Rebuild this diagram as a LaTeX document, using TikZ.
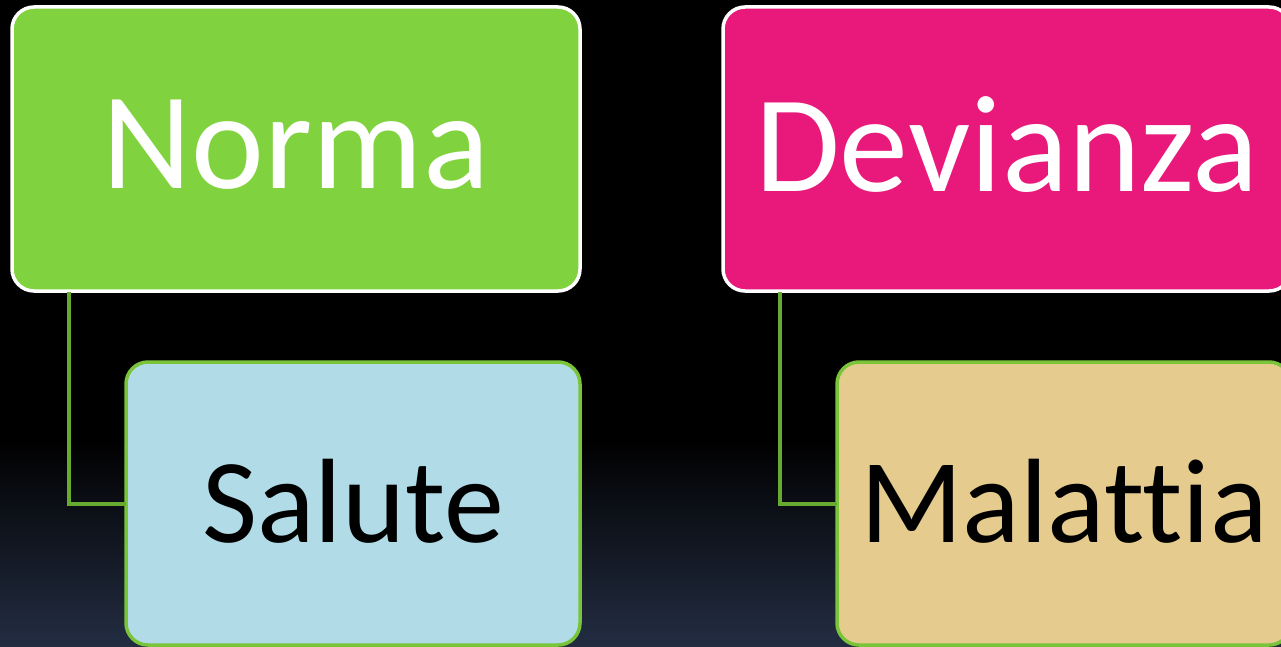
\documentclass[tikz,border=0pt]{standalone}
\usepackage{fontspec}
\setmainfont{Carlito}[Ligatures={NoCommon}]
\definecolor{normagreen}{HTML}{80D33E}
\definecolor{devmag}{HTML}{E8197A}
\definecolor{salblue}{HTML}{B1DCE7}
\definecolor{maltan}{HTML}{E5CC8E}
\definecolor{bordgreen}{HTML}{7AC43A}
\definecolor{linegreen}{HTML}{66AA30}
\definecolor{bgbottom}{HTML}{232D42}
\begin{document}
\begin{tikzpicture}[x=1pt,y=-1pt,
  topbox/.style={draw=white,line width=3.5pt,rounded corners=22pt},
  subbox/.style={draw=bordgreen,line width=3.5pt,rounded corners=22pt},
  conn/.style={draw=linegreen,line width=3.5pt},
  bigtxt/.style={font=\fontsize{138}{138}\selectfont},
  midtxt/.style={font=\fontsize{120}{120}\selectfont}]
\useasboundingbox (0,0) rectangle (1281,647);
\fill[black] (0,0) rectangle (1281,440);
\shade[top color=black,bottom color=bgbottom] (0,439) rectangle (1281,647);
% boxes
\draw[topbox,fill=normagreen] (12,7) rectangle (580,291);
\draw[topbox,fill=devmag] (723,7) rectangle (1291,291);
\draw[subbox,fill=salblue] (126,362) rectangle (580,645);
\draw[subbox,fill=maltan] (837,362) rectangle (1291,645);
% text nodes
\node[bigtxt,text=white] (norma) at (296,145) {Norma};
\node[bigtxt,text=white] (devianza) at (1007,145) {Devianza};
\node[midtxt,text=black] (salute) at (353,501) {Salute};
\node[midtxt,text=black] (malattia) at (1064,501) {Malattia};
% connector anchors
\coordinate (n0) at (69,292);
\coordinate (n1) at (126,504);
\coordinate (d0) at (780,292);
\coordinate (d1) at (837,504);
\draw[conn] (n0) |- (n1);
\draw[conn] (d0) |- (d1);
\end{tikzpicture}
\end{document}
